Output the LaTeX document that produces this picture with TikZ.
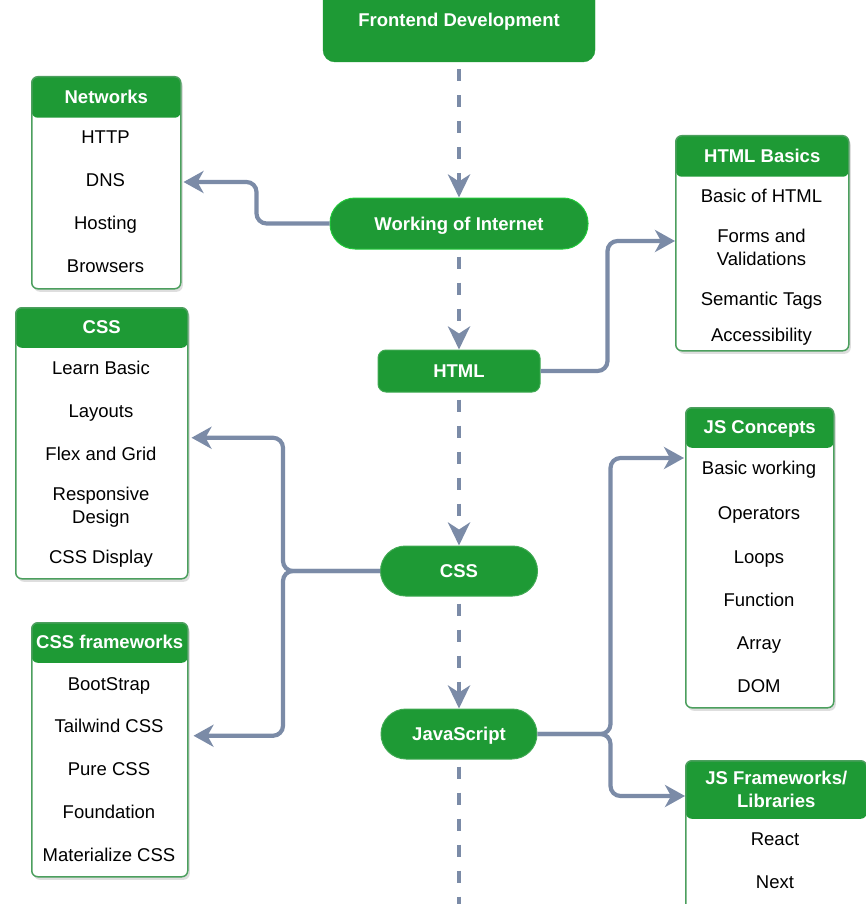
\documentclass[tikz,border=0pt]{standalone}
\usepackage{fontspec}
\setmainfont{Liberation Sans}
\usepackage{tikz}
\usetikzlibrary{arrows.meta, positioning, calc, shadows}

\definecolor{hdgreen}{HTML}{1E9A35}
\definecolor{pillline}{HTML}{22C83A}
\definecolor{boxline}{HTML}{4C9F5E}
\definecolor{linkgray}{HTML}{7B8BA7}

\begin{document}
\begin{tikzpicture}[
    x=1pt, y=-1pt,
    font=\fontsize{18.5}{23}\selectfont,
    onerow/.style={text height=13.3pt, text depth=0pt},
    topbox/.style={onerow, fill=hdgreen, draw=hdgreen, rounded corners=12pt, text=white, font=\fontsize{18.5}{23}\selectfont\bfseries},
    pill/.style={onerow, fill=hdgreen, draw=hdgreen!85!white, line width=1pt, minimum height=50pt, rounded corners=25pt, text=white, font=\fontsize{18.5}{23}\selectfont\bfseries},
    listbox/.style={draw=boxline, line width=1.5pt, fill=white, rounded corners=6pt, inner sep=0pt, anchor=north west,
        drop shadow={shadow xshift=2pt, shadow yshift=-3pt, opacity=0.13, fill=black},
        path picture={\fill[hdgreen] (path picture bounding box.north west) rectangle ([yshift=-#1]path picture bounding box.north east);}},
    headtxt/.style={onerow, text=white, font=\fontsize{18.5}{23}\selectfont\bfseries},
    headtwo/.style={align=center, text depth=0pt, text=white, font=\fontsize{18.5}{23}\selectfont\bfseries},
    item/.style={onerow, text=black},
    itemtwo/.style={align=center, text depth=0pt, text=black},
    flow/.style={draw=linkgray, line width=4.5pt, dash pattern=on 12pt off 14pt, shorten <=7pt, -{Stealth[length=23pt, width=22pt, inset=7pt]}},
    link/.style={draw=linkgray, line width=4.2pt, rounded corners=10pt, -{Stealth[length=20pt, width=22pt, inset=6pt]}}
]
\useasboundingbox (0,0) rectangle (865,904);

% Main path
\node[topbox, minimum width=272pt, minimum height=84pt] (fd) at (459,20) {Frontend Development};
\node[pill, draw=pillline, minimum width=258pt, minimum height=51pt] (inet) at (459,223.5) {Working of Internet};
\node[pill, minimum width=162pt, minimum height=42pt, rounded corners=8pt] (html) at (459,371) {HTML};
\node[pill, minimum width=157pt] (css) at (459,571) {CSS};
\node[pill, minimum width=156pt] (js) at (459,734) {JavaScript};
\coordinate (spineend) at (459,912);

% Networks
\node[listbox=41pt, minimum width=149pt, minimum height=212pt] (netbox) at (31,76) {};
\node[headtxt] (nethd) at ([yshift=-20.5pt]netbox.north) {Networks};
\node[item] (net1) at (105.5,137) {HTTP};
\node[item] (net2) at (105.5,180) {DNS};
\node[item] (net3) at (105.5,223) {Hosting};
\node[item] (net4) at (105.5,266) {Browsers};

% HTML Basics
\node[listbox=41pt, minimum width=173pt, minimum height=215pt] (hbbox) at (675,135) {};
\node[headtxt] (hbhd) at ([yshift=-20.5pt]hbbox.north) {HTML Basics};
\node[item] (hb1) at (761.5,196) {Basic of HTML};
\node[itemtwo] (hb2) at (761.5,247.5) {Forms and\\Validations};
\node[item] (hb3) at (761.5,299) {Semantic Tags};
\node[item] (hb4) at (761.5,335) {Accessibility};

% CSS
\node[listbox=40pt, minimum width=172pt, minimum height=271pt] (cssbox) at (15,307) {};
\node[headtxt] (csshd) at ([yshift=-20pt]cssbox.north) {CSS};
\node[item] (css1) at (101,368) {Learn Basic};
\node[item] (css2) at (101,411) {Layouts};
\node[item] (css3) at (101,454) {Flex and Grid};
\node[itemtwo] (css4) at (101,505.5) {Responsive\\Design};
\node[item] (css5) at (101,557) {CSS Display};

% CSS frameworks
\node[listbox=40pt, minimum width=156pt, minimum height=254pt] (cfbox) at (31,622) {};
\node[headtxt] (cfhd) at ([yshift=-20pt]cfbox.north) {CSS frameworks};
\node[item] (cf1) at (109,684) {BootStrap};
\node[item] (cf2) at (109,726) {Tailwind CSS};
\node[item] (cf3) at (109,769) {Pure CSS};
\node[item] (cf4) at (109,812) {Foundation};
\node[item] (cf5) at (109,855) {Materialize CSS};

% JS Concepts
\node[listbox=40pt, minimum width=148pt, minimum height=300pt] (jcbox) at (685,407) {};
\node[headtxt] (jchd) at ([yshift=-20pt]jcbox.north) {JS Concepts};
\node[item] (jc1) at (759,468) {Basic working};
\node[item] (jc2) at (759,513) {Operators};
\node[item] (jc3) at (759,557) {Loops};
\node[item] (jc4) at (759,600) {Function};
\node[item] (jc5) at (759,643) {Array};
\node[item] (jc6) at (759,686) {DOM};

% JS Frameworks
\node[listbox=58pt, minimum width=181pt, minimum height=170pt] (jfbox) at (685,760) {};
\node[headtwo] (jfhd) at ([yshift=-29pt]jfbox.north) {JS Frameworks/\\Libraries};
\node[item] (jf1) at (775,839) {React};
\node[item] (jf2) at (775,882) {Next};

% Edges
\draw[flow] (fd) -- (inet);
\draw[flow] (inet) -- (html);
\draw[flow] (html) -- (css);
\draw[flow] (css) -- (js);
\draw[flow, -] (js) -- (spineend);

\draw[link] (inet.west) -- ++(-73,0) |- ($(netbox.east |- net2)+(2,2)$);
\draw[link] (html.east) -- ++(67,0) |- ($(hbbox.west |- hb2)+(0,-6.5)$);
\draw[link] (css.west) -- ++(-97,0) |- ($(cssbox.east)+(3,-5.5)$);
\draw[link] (css.west) -- ++(-97,0) |- ($(cfbox.east)+(5,-14)$);
\draw[link] (js.east) -- ++(73,0) |- ($(jcbox.west |- jc1)+(-1,-10)$);
\draw[link] (js.east) -- ++(73,0) |- ($(jfbox.west |- jfhd)+(0,7)$);

\end{tikzpicture}
\end{document}
